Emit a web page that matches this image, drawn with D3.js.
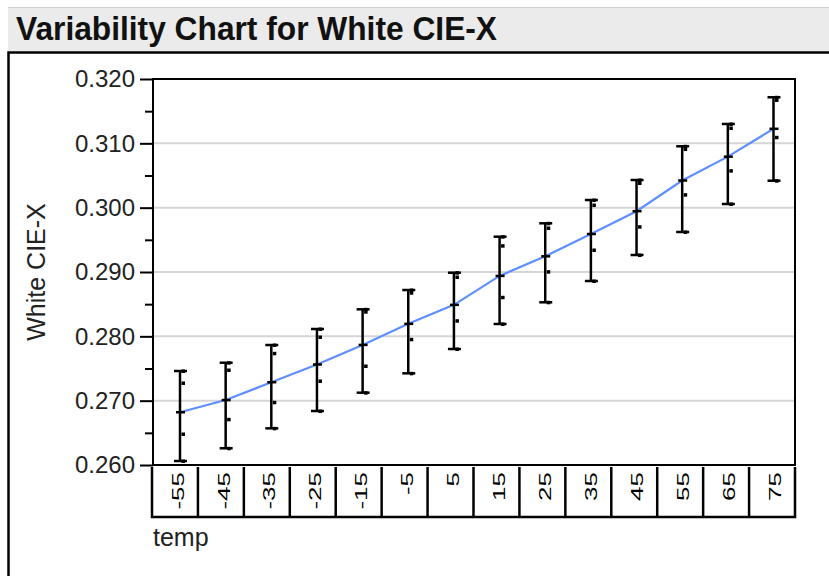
<!DOCTYPE html>
<html>
<head>
<meta charset="utf-8">
<script src="https://cdn.jsdelivr.net/npm/d3@7"></script>
<style>
  body { margin: 0; background: #fff; }
  svg { display: block; font-family: "Liberation Sans", Arial, sans-serif; }
</style>
</head>
<body>
<div id="vis"></div>
<script>
// temp levels and the four readings at each level
var temps = ['-55', '-45', '-35', '-25', '-15', '-5', '5', '15', '25', '35', '45', '55', '65', '75'];
var rep1 = [0.27461, 0.27590, 0.27865, 0.28114, 0.28420, 0.28720, 0.28989, 0.29549, 0.29757, 0.30119, 0.30430, 0.30954, 0.31301, 0.31716];
var rep2 = [0.27275, 0.27477, 0.27736, 0.27990, 0.28383, 0.28678, 0.28922, 0.29409, 0.29684, 0.30041, 0.30383, 0.30912, 0.31238, 0.31674];
var rep3 = [0.26482, 0.26710, 0.26975, 0.27306, 0.27539, 0.27954, 0.28243, 0.28607, 0.29005, 0.29342, 0.29704, 0.30202, 0.30575, 0.31094];
var rep4 = [0.26062, 0.26260, 0.26570, 0.26839, 0.27124, 0.27425, 0.27803, 0.28192, 0.28529, 0.28860, 0.29264, 0.29622, 0.30057, 0.30419];
var yTicks = [0.260, 0.270, 0.280, 0.290, 0.300, 0.310, 0.320];

var width = 829, height = 576;
var plot = { left: 153, right: 795, top: 79, bottom: 465 };

var svg = d3.select('#vis').append('svg')
    .attr('width', width)
    .attr('height', height);

// title bar
svg.append('rect')
    .attr('x', 8).attr('y', 7).attr('width', width - 8).attr('height', 44)
    .attr('fill', '#ebebeb');
svg.append('line')
    .attr('x1', 8).attr('x2', width).attr('y1', 7.5).attr('y2', 7.5)
    .attr('stroke', '#cfcfcf').attr('stroke-width', 1);
svg.append('text')
    .attr('x', 16).attr('y', 40)
    .attr('font-size', 33).attr('font-weight', 'bold').attr('fill', '#111')
    .attr('textLength', 481).attr('lengthAdjust', 'spacingAndGlyphs')
    .text('Variability Chart for White CIE-X');
// panel outline
svg.append('path')
    .attr('d', 'M' + width + ',52.5H8.5V' + height)
    .attr('fill', 'none').attr('stroke', '#000').attr('stroke-width', 2.5);

var groups = temps.map(function (t, i) {
    var vals = [rep1[i], rep2[i], rep3[i], rep4[i]];
    return { temp: t, vals: vals, min: d3.min(vals), max: d3.max(vals), mean: d3.mean(vals) };
});

var y = d3.scaleLinear().domain([0.260, 0.320]).range([plot.bottom, plot.top]);
var xBand = d3.scaleBand().domain(temps).range([152, plot.right]);
var x = d3.scalePoint().domain(temps).range([180, 773.5]);

// grid
svg.append('g').selectAll('line')
    .data(yTicks.slice(1, -1))
    .enter().append('line')
    .attr('x1', plot.left).attr('x2', plot.right)
    .attr('y1', function (d) { return y(d); }).attr('y2', function (d) { return y(d); })
    .attr('stroke', '#d6d6d6').attr('stroke-width', 2);

// y axis
var yAxis = d3.axisLeft(y).tickValues(yTicks).tickFormat(d3.format('.3f')).tickSize(13).tickPadding(5);
var gy = svg.append('g')
    .attr('transform', 'translate(' + plot.left + ',0)')
    .call(yAxis);
gy.select('.domain').remove();
gy.selectAll('.tick line').attr('stroke', '#000').attr('stroke-width', 2);
gy.selectAll('.tick text').attr('font-size', 24).attr('fill', '#222')
    .attr('font-family', '"Liberation Sans", Arial, sans-serif');
var gyMinor = d3.axisLeft(y).tickValues(d3.range(0.265, 0.32, 0.01)).tickSize(8).tickFormat('');
var gm = svg.append('g').attr('transform', 'translate(' + plot.left + ',0)').call(gyMinor);
gm.select('.domain').remove();
gm.selectAll('.tick line').attr('stroke', '#000').attr('stroke-width', 2);

svg.append('text')
    .attr('transform', 'translate(45,' + (plot.top + plot.bottom) / 2 + ') rotate(-90)')
    .attr('text-anchor', 'middle')
    .attr('font-size', 25).attr('fill', '#222')
    .text('White CIE-X');

// plot frame
svg.append('rect')
    .attr('x', plot.left).attr('y', plot.top)
    .attr('width', plot.right - plot.left).attr('height', plot.bottom - plot.top)
    .attr('fill', 'none').attr('stroke', '#000').attr('stroke-width', 2);

// x category boxes
var boxTop = plot.bottom + 2, boxBottom = 517;
svg.append('path')
    .attr('d', 'M152,' + boxTop + 'V' + boxBottom + 'H' + plot.right + 'V' + boxTop)
    .attr('fill', 'none').attr('stroke', '#000').attr('stroke-width', 2.5);
svg.append('g').selectAll('line')
    .data(temps.slice(1))
    .enter().append('line')
    .attr('x1', function (d) { return xBand(d); }).attr('x2', function (d) { return xBand(d); })
    .attr('y1', boxTop).attr('y2', boxBottom)
    .attr('stroke', '#000').attr('stroke-width', 2.5);
svg.append('g').selectAll('text')
    .data(temps)
    .enter().append('text')
    .attr('transform', function (d) {
        return 'translate(' + (xBand(d) + xBand.bandwidth() / 2 + 3) + ',472) rotate(-90) scale(1,0.62)';
    })
    .attr('text-anchor', 'end')
    .attr('dy', '0.35em')
    .attr('font-size', 26).attr('fill', '#000')
    .text(function (d) { return d; });

svg.append('text')
    .attr('x', 153).attr('y', 546)
    .attr('font-size', 25).attr('fill', '#222')
    .text('temp');

// mean line
var line = d3.line()
    .x(function (d) { return x(d.temp); })
    .y(function (d) { return y(d.mean); });
svg.append('path')
    .datum(groups)
    .attr('d', line)
    .attr('fill', 'none').attr('stroke', '#5f8fff').attr('stroke-width', 2.2);

// range bars
var g = svg.append('g').selectAll('g')
    .data(groups)
    .enter().append('g')
    .attr('transform', function (d) { return 'translate(' + x(d.temp) + ',0)'; });

g.append('line')
    .attr('y1', function (d) { return y(d.min); }).attr('y2', function (d) { return y(d.max); })
    .attr('stroke', '#000').attr('stroke-width', 2.5);
g.append('line')
    .attr('x1', -6).attr('x2', 7)
    .attr('y1', function (d) { return y(d.max); }).attr('y2', function (d) { return y(d.max); })
    .attr('stroke', '#000').attr('stroke-width', 2.5);
g.append('line')
    .attr('x1', -6).attr('x2', 7)
    .attr('y1', function (d) { return y(d.min); }).attr('y2', function (d) { return y(d.min); })
    .attr('stroke', '#000').attr('stroke-width', 2.5);
g.append('line')
    .attr('x1', -4).attr('x2', 5)
    .attr('y1', function (d) { return y(d.mean); }).attr('y2', function (d) { return y(d.mean); })
    .attr('stroke', '#000').attr('stroke-width', 2.5);

// individual readings
g.selectAll('rect')
    .data(function (d) { return d.vals; })
    .enter().append('rect')
    .attr('x', 1.5).attr('y', function (v) { return y(v) - 1.5; })
    .attr('width', 3.5).attr('height', 3.5)
    .attr('fill', '#000');
</script>
</body>
</html>
